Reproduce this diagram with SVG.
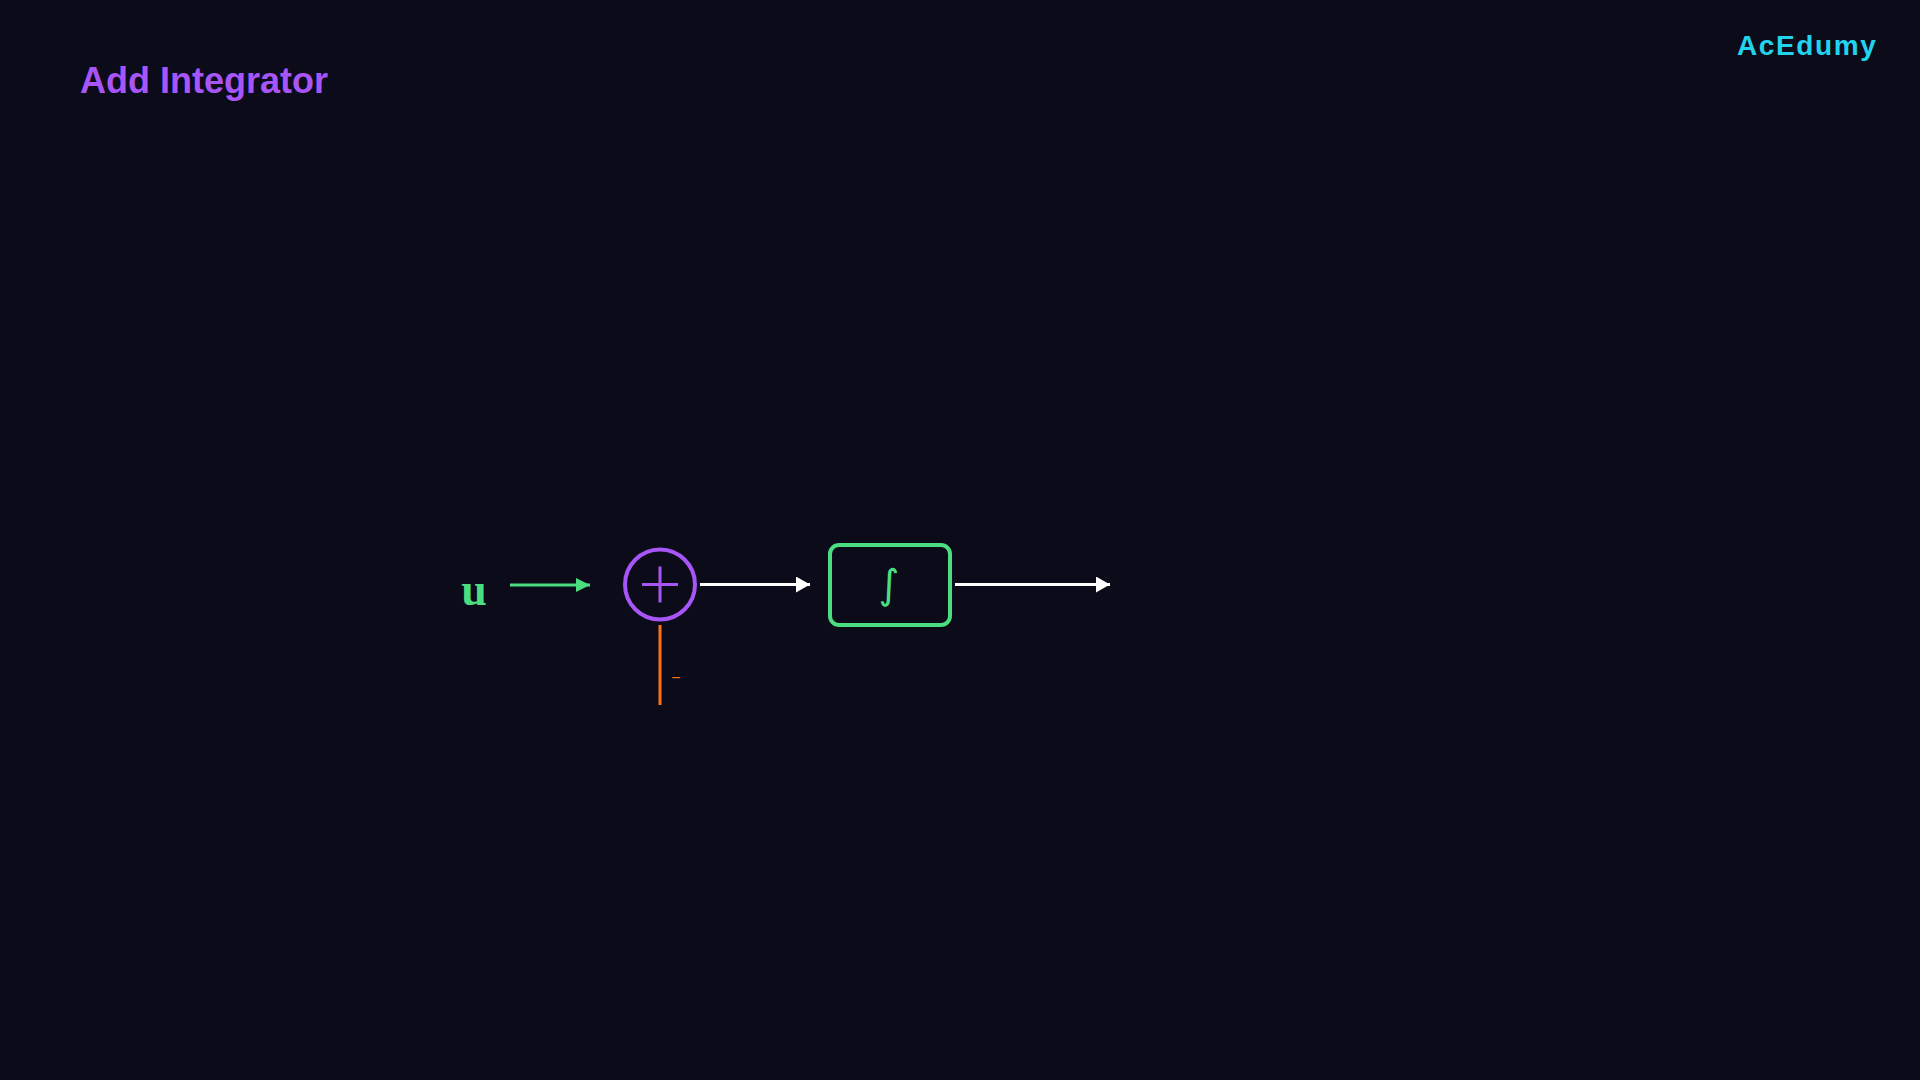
<svg xmlns="http://www.w3.org/2000/svg" width="1920" height="1080" viewBox="0 0 1920 1080">
<defs>
<style>
.title{font-family:"Liberation Sans",Arial,sans-serif;font-weight:bold;font-size:36px;fill:#a855f7}
.brand{font-family:"Liberation Sans",Arial,sans-serif;font-weight:bold;font-size:28px;fill:#22d3ee;letter-spacing:1.6px}
.wire{fill:none;stroke-width:3}
</style>
<marker id="ahG" markerWidth="14" markerHeight="14" viewBox="0 0 14 14" refX="14" refY="7" orient="auto" markerUnits="userSpaceOnUse"><path d="M0,0 L14,7 L0,14 Z" fill="#4ade80"/></marker>
<marker id="ahW" markerWidth="14" markerHeight="16" viewBox="0 0 14 16" refX="14" refY="8" orient="auto" markerUnits="userSpaceOnUse"><path d="M0,0 L14,8 L0,16 Z" fill="#ffffff"/></marker>
</defs>
<rect width="1920" height="1080" fill="#0b0b19"/>
<text class="title" x="80" y="93">Add Integrator</text>
<text class="brand" x="1737" y="55">AcEdumy</text>
<g id="input-u"><text x="474" y="605" text-anchor="middle" font-family="'Liberation Serif','Times New Roman',serif" font-weight="bold" font-size="46" fill="#4ade80">u</text></g>
<g id="sum">
<circle cx="660" cy="584.5" r="35" fill="none" stroke="#a855f7" stroke-width="4"/>
<path d="M642,584.5 H678 M660,566.5 V602.5" stroke="#a855f7" stroke-width="3" fill="none"/>
</g>
<g id="integrator">
<rect x="830" y="545" width="120" height="80" rx="9" fill="none" stroke="#4ade80" stroke-width="4"/>
<text x="889" y="598" text-anchor="middle" font-family="'DejaVu Sans',sans-serif" font-size="40" fill="#4ade80">∫</text>
</g>
<g id="connectors">
<line class="wire" x1="510" y1="585" x2="590" y2="585" stroke="#4ade80" marker-end="url(#ahG)"/>
<line class="wire" x1="700" y1="584.5" x2="810" y2="584.5" stroke="#ffffff" marker-end="url(#ahW)"/>
<line class="wire" x1="955" y1="584.5" x2="1110" y2="584.5" stroke="#ffffff" marker-end="url(#ahW)"/>
<line class="wire" x1="660" y1="625" x2="660" y2="705" stroke="#f97316"/>
<text x="676" y="683" text-anchor="middle" font-family="'Liberation Sans',Arial,sans-serif" font-size="16" fill="#f97316">−</text>
</g>
</svg>
